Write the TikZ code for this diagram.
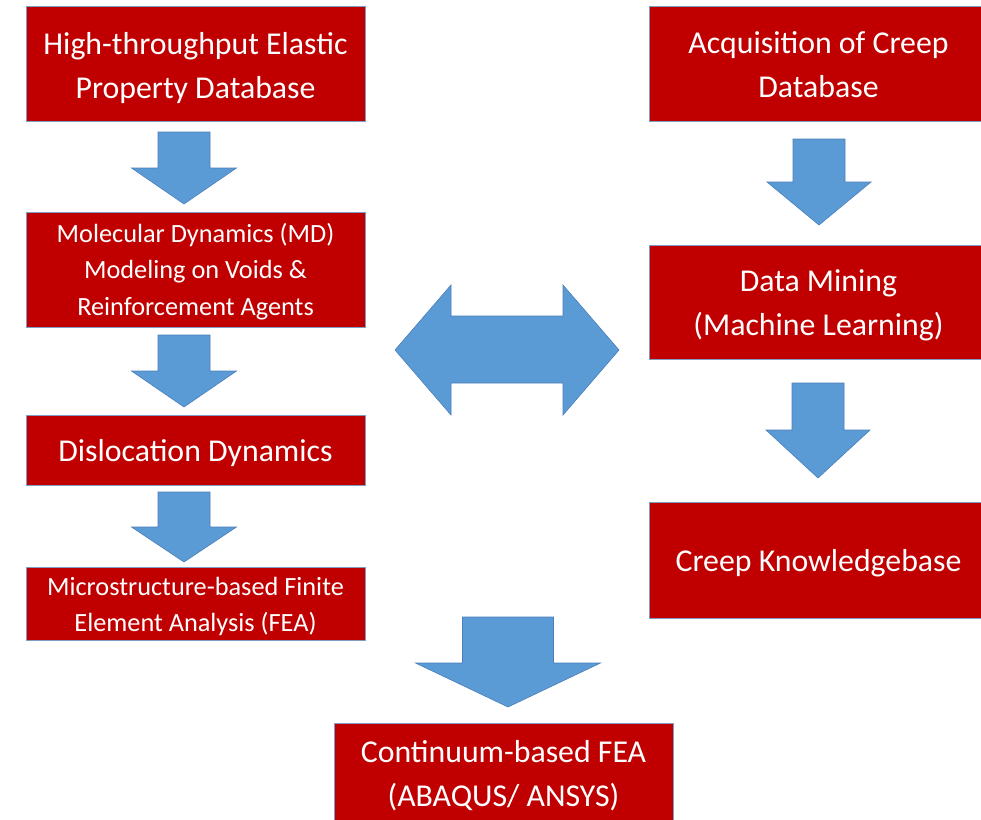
\documentclass[tikz,border=0pt]{standalone}
\usepackage{fontspec}
\setmainfont{Carlito}
\definecolor{boxred}{HTML}{C00000}
\definecolor{boxedge}{HTML}{7F9CC4}
\definecolor{arrblue}{HTML}{5B9BD5}
\definecolor{arredge}{HTML}{4A7EBB}
\newcommand\blockdown[6]{% cx, top, headstart, tip, shaft half, head half
  \filldraw[blockarrow] (#1-#5,#2) -- (#1+#5,#2) -- (#1+#5,#3) -- (#1+#6,#3) -- (#1,#4) -- (#1-#6,#3) -- (#1-#5,#3) -- cycle;}
\newcommand\btxt[2][-3pt]{\raisebox{#1}[\height][\depth]{\begin{tabular}{@{}c@{}}#2\end{tabular}}}
\begin{document}
\begin{tikzpicture}[x=1pt,y=-1pt,
  redbox/.style={draw=boxedge,line width=0.8pt,fill=boxred,text=white,align=center,
    minimum width=339pt,inner sep=0pt,font=\fontsize{31.8}{44}\selectfont},
  smalltext/.style={font=\fontsize{26.3}{36.5}\selectfont},
  blockarrow/.style={fill=arrblue,draw=arredge,line width=0.6pt,line join=miter}]
\useasboundingbox (0,0) rectangle (981,819);
% left column
\node[redbox,minimum height=115pt] (hted) at (195.5,63.5) {\btxt[-4.5pt]{High-throughput Elastic\\Property Database}};
\node[redbox,smalltext,minimum height=115pt] (md) at (195.5,269.5) {\btxt[-2pt]{Molecular Dynamics (MD)\\Modeling on Voids \&\\Reinforcement Agents}};
\node[redbox,minimum height=70pt] (dd) at (195.5,450) {\btxt{Dislocation Dynamics}};
\node[redbox,smalltext,minimum height=72pt] (mfea) at (195.5,604) {\btxt[-2pt]{Microstructure-based Finite\\Element Analysis (FEA)}};
% right column
\node[redbox,minimum height=115pt] (acq) at (818.5,63.5) {\btxt{Acquisition of Creep\\Database}};
\node[redbox,minimum height=114pt] (dm) at (818.5,302) {\btxt[-2.5pt]{Data Mining\\(Machine Learning)}};
\node[redbox,minimum height=116pt] (ckb) at (818.5,560) {\btxt{Creep Knowledgebase}};
% bottom
\node[redbox,minimum height=115pt,anchor=north] (cfea) at (503.5,723) {\btxt[5pt]{Continuum-based FEA\\(ABAQUS/ ANSYS)}};
% block arrows
\blockdown{184}{132}{168}{204}{26}{52.5}
\blockdown{184}{335}{371}{407}{26}{52.5}
\blockdown{184}{492}{527}{562}{26}{52.5}
\blockdown{819}{139}{182}{225}{26}{52}
\blockdown{818}{383}{430}{478}{26}{52}
\blockdown{508}{617}{663}{707}{45.5}{92.5}
\filldraw[blockarrow] (395,350) -- (451,285) -- (451,316) -- (563,316) -- (563,285) -- (619,350) -- (563,415) -- (563,383) -- (451,383) -- (451,415) -- cycle;
\end{tikzpicture}
\end{document}
